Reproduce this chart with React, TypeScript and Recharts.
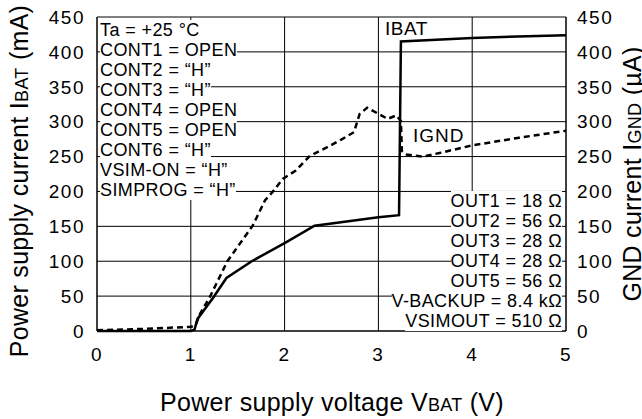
import React from 'react';
import { LineChart, Line, XAxis, YAxis, CartesianGrid } from 'recharts';

// IBAT (mA) vs VBAT (V)
const ibatV = [0, 0.5, 1.0, 1.04, 1.07, 1.24, 1.38, 1.65, 2.0, 2.32, 2.6, 3.0, 3.22, 3.24, 4.0, 5.0];
const ibatI = [0, 0, 0, 2, 17, 48, 76, 100, 126, 151, 156, 163, 166, 415, 420, 424];

// IGND (uA) vs VBAT (V)
const igndV = [0, 0.5, 1.0, 1.05, 1.1, 1.2, 1.39, 1.66, 1.79, 1.87, 1.98, 2.12, 2.27, 2.45, 2.6, 2.74, 2.8, 2.88, 3.03, 3.1, 3.19, 3.24, 3.25, 3.3, 3.47, 3.65, 4.0, 4.5, 5.0];
const igndI = [1, 3, 6, 8, 25, 48, 100, 151, 187, 199, 218, 230, 251, 263, 274, 285, 311, 320, 309, 304, 309, 301, 258, 253, 250, 255, 266, 277, 287];

const xTicks = [0, 1, 2, 3, 4, 5];
const yTicks = [0, 50, 100, 150, 200, 250, 300, 350, 400, 450];

const leftNotes = ['Ta = +25 °C', 'CONT1 = OPEN', 'CONT2 = “H”', 'CONT3 = “H”', 'CONT4 = OPEN', 'CONT5 = OPEN', 'CONT6 = “H”', 'VSIM-ON = “H”', 'SIMPROG = “H”'];
const rightNotes = ['OUT1 = 18 Ω', 'OUT2 = 56 Ω', 'OUT3 = 28 Ω', 'OUT4 = 28 Ω', 'OUT5 = 56 Ω', 'V-BACKUP = 8.4 kΩ', 'VSIMOUT = 510 Ω'];

const ibatData = ibatV.map((v, k) => ({ v, i: ibatI[k] }));
const igndData = igndV.map((v, k) => ({ v, i: igndI[k] }));

const font = "Arial, 'Liberation Sans', sans-serif";
const tickStyle = { fontSize: 19, fill: '#000', fontFamily: font, letterSpacing: 1.5 };

const noteStyle: React.CSSProperties = {
  position: 'absolute',
  display: 'flex',
  flexDirection: 'column',
  fontFamily: font,
  fontSize: 18,
  lineHeight: '20px',
  letterSpacing: 0.4,
  color: '#000',
  whiteSpace: 'nowrap',
};

const titleStyle: React.CSSProperties = {
  position: 'absolute',
  fontFamily: font,
  fontSize: 25,
  lineHeight: '30px',
  letterSpacing: 0.3,
  color: '#000',
  whiteSpace: 'nowrap',
};

const sub = (s: string) => <span style={{ fontSize: 18 }}>{s}</span>;

export default function App() {
  return (
    <div style={{ position: 'absolute', left: 0, top: 0, width: 642, height: 419, background: '#fff', overflow: 'hidden' }}>
      <LineChart width={642} height={419} data={ibatData} margin={{ top: 17, right: 0, bottom: 0, left: 0 }}>
        <CartesianGrid yAxisId="left" stroke="#000" strokeWidth={1} />
        <XAxis
          type="number"
          dataKey="v"
          domain={[0, 5]}
          ticks={xTicks}
          height={88}
          tickLine={false}
          tickSize={0}
          tickMargin={17}
          axisLine={{ stroke: '#000' }}
          tick={tickStyle}
        />
        <YAxis
          yAxisId="left"
          domain={[0, 450]}
          ticks={yTicks}
          width={97}
          tickLine={false}
          tickSize={0}
          tickMargin={12}
          axisLine={{ stroke: '#000' }}
          tick={tickStyle}
        />
        <YAxis
          yAxisId="right"
          orientation="right"
          domain={[0, 450]}
          ticks={yTicks}
          width={76}
          tickLine={false}
          tickSize={0}
          tickMargin={11}
          axisLine={{ stroke: '#000' }}
          tick={tickStyle}
        />
        <Line
          yAxisId="right"
          data={igndData}
          dataKey="i"
          type="linear"
          stroke="#000"
          strokeWidth={2.5}
          strokeDasharray="6 4"
          dot={false}
          isAnimationActive={false}
        />
        <Line
          yAxisId="left"
          data={ibatData}
          dataKey="i"
          type="linear"
          stroke="#000"
          strokeWidth={2.5}
          dot={false}
          isAnimationActive={false}
        />
      </LineChart>

      <div style={{ ...noteStyle, left: 100, top: 19.5, alignItems: 'flex-start' }}>
        {leftNotes.map((t) => (
          <span key={t} style={{ background: '#fff' }}>{t}</span>
        ))}
      </div>
      <div style={{ ...noteStyle, right: 80, top: 190.5, alignItems: 'flex-end' }}>
        {rightNotes.map((t) => (
          <span key={t} style={{ background: '#fff' }}>{t}</span>
        ))}
      </div>

      <div style={{ ...noteStyle, left: 385, top: 18.5, fontSize: 19, letterSpacing: 0.5 }}>IBAT</div>
      <div style={{ ...noteStyle, left: 413, top: 125.5, fontSize: 19, letterSpacing: 1 }}>IGND</div>

      <div style={{ ...titleStyle, left: 332, top: 403, transform: 'translate(-50%, -50%)' }}>
        Power supply voltage V{sub('BAT')} (V)
      </div>
      <div style={{ ...titleStyle, left: 20, top: 180.5, transform: 'translate(-50%, -50%) rotate(-90deg)' }}>
        Power supply current I{sub('BAT')} (mA)
      </div>
      <div style={{ ...titleStyle, left: 632.5, top: 173.5, transform: 'translate(-50%, -50%) rotate(-90deg)' }}>
        GND current I{sub('GND')} (µA)
      </div>
    </div>
  );
}
